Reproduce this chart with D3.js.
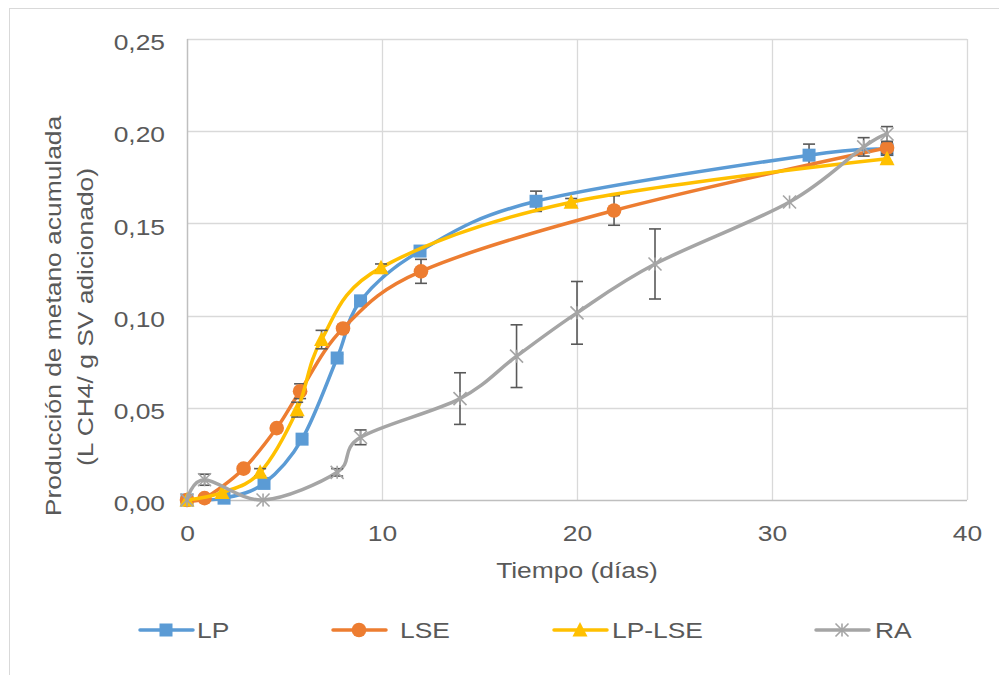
<!DOCTYPE html>
<html>
<head>
<meta charset="utf-8">
<script src="https://cdn.jsdelivr.net/npm/d3@7"></script>
<style>
  html, body { margin: 0; padding: 0; background: #fff; }
  svg { display: block; }
  text { font-family: "Liberation Sans", Arial, sans-serif; fill: #595959; }
</style>
</head>
<body>
<svg id="chart" width="999" height="675"></svg>
<script>
// ---------- DATA ----------
const seriesNames = ["LP", "LSE", "LP-LSE", "RA"];

const lpDays   = [0, 1.9, 3.95, 5.9, 7.7, 8.9, 11.95, 17.9, 31.9, 35.9];
const lpValues = [0, 0.001, 0.009, 0.033, 0.077, 0.108, 0.135, 0.162, 0.187, 0.190];
const lpErr    = [0, 0, 0.001, 0.002, 0.002, 0.002, 0.002, 0.0055, 0.006, 0.003];

const lseDays   = [0, 0.9, 2.9, 4.6, 5.8, 8.0, 12.0, 21.9, 35.9];
const lseValues = [0, 0.001, 0.017, 0.039, 0.059, 0.093, 0.124, 0.157, 0.191];
const lseErr    = [0, 0, 0, 0.001, 0.004, 0.002, 0.0065, 0.008, 0.003];

const lplseDays   = [0, 1.8, 3.75, 5.65, 6.9, 9.95, 19.7, 35.9];
const lplseValues = [0, 0.004, 0.015, 0.049, 0.087, 0.126, 0.1615, 0.185];
const lplseErr    = [0, 0, 0.002, 0.004, 0.005, 0.002, 0.002, 0.002];

const raDays   = [0, 0.9, 3.9, 7.7, 8.9, 14.0, 16.9, 20.0, 24.0, 30.9, 34.7, 35.9];
const raValues = [0, 0.011, 0.0, 0.015, 0.034, 0.055, 0.078, 0.1015, 0.128, 0.1616, 0.1915, 0.1985];
const raErr    = [0, 0.003, 0, 0.002, 0.004, 0.014, 0.017, 0.017, 0.019, 0, 0.005, 0.004];

const xTicks = [0, 10, 20, 30, 40];
const yTicks = [0, 0.05, 0.10, 0.15, 0.20, 0.25];

const xTitle = "Tiempo (días)";
const yTitle1 = "Producción de metano acumulada";
const yTitle2 = "(L CH4/ g SV adicionado)";

// ---------- LAYOUT / STYLE ----------
const colors = ["#5B9BD5", "#ED7D31", "#FFC000", "#A5A5A5"];
const markers = ["square", "circle", "triangle", "star"];
const L = 187, R = 967, T = 39, B = 500;
const FS = 22, SX = 1.2;
const legendLineX = [140, 333, 554, 816];
const legendTextX = [197, 400, 612, 875];
const legendY = 630;

const series = [
  {days: lpDays, vals: lpValues, err: lpErr},
  {days: lseDays, vals: lseValues, err: lseErr},
  {days: lplseDays, vals: lplseValues, err: lplseErr},
  {days: raDays, vals: raValues, err: raErr}
].map((s, i) => ({
  name: seriesNames[i], color: colors[i], marker: markers[i],
  pts: s.days.map((d, j) => ({x: d, y: s.vals[j], e: s.err[j]}))
}));

const svg = d3.select("#chart");
const x = d3.scaleLinear().domain([0, 40]).range([L, R]);
const y = d3.scaleLinear().domain([0, 0.25]).range([B, T]);
const fmt = v => d3.format(".2f")(v).replace(".", ",");

// outer frame
svg.append("rect").attr("x", 9.5).attr("y", 8.5).attr("width", 1000).attr("height", 700)
  .attr("fill", "none").attr("stroke", "#d9d9d9").attr("stroke-width", 1);

// gridlines
const grid = svg.append("g");
grid.selectAll("line.h").data(yTicks.filter(v => v > 0)).join("line")
  .attr("x1", L).attr("x2", R)
  .attr("y1", d => Math.round(y(d)) + 0.5).attr("y2", d => Math.round(y(d)) + 0.5)
  .attr("stroke", "#d9d9d9").attr("stroke-width", 1.3);
grid.selectAll("line.v").data(xTicks.filter(v => v > 0)).join("line")
  .attr("y1", T).attr("y2", B)
  .attr("x1", d => Math.round(x(d)) + 0.5).attr("x2", d => Math.round(x(d)) + 0.5)
  .attr("stroke", "#d9d9d9").attr("stroke-width", 1.3);

// axes lines
svg.append("line").attr("x1", L + 0.5).attr("x2", L + 0.5).attr("y1", T).attr("y2", B)
  .attr("stroke", "#bfbfbf").attr("stroke-width", 1.5);
svg.append("line").attr("x1", L).attr("x2", R).attr("y1", B + 0.5).attr("y2", B + 0.5)
  .attr("stroke", "#bfbfbf").attr("stroke-width", 1.5);

// y axis labels
const yAxis = svg.append("g").attr("transform", `translate(${L},0)`)
  .call(d3.axisLeft(y).tickValues(yTicks).tickFormat(fmt).tickSize(0));
yAxis.select(".domain").remove();
yAxis.selectAll("text")
  .attr("x", 0).attr("dy", "0.35em")
  .attr("transform", `translate(-22,3) scale(${SX},1)`)
  .style("font-size", FS + "px").style("font-family", null).attr("fill", "#595959")
  .attr("text-anchor", "end");

// x axis labels
const xAxis = svg.append("g").attr("transform", `translate(0,${B})`)
  .call(d3.axisBottom(x).tickValues(xTicks).tickFormat(d => d).tickSize(0));
xAxis.select(".domain").remove();
xAxis.selectAll("text")
  .attr("y", 0).attr("dy", 0)
  .attr("transform", `translate(0,41) scale(${SX},1)`)
  .style("font-size", FS + "px").style("font-family", null).attr("fill", "#595959");

// titles
svg.append("text").text(xTitle)
  .attr("transform", `translate(577,578) scale(${SX},1)`)
  .attr("text-anchor", "middle").style("font-size", FS + "px");
svg.append("text").text(yTitle1)
  .attr("transform", `translate(61,316) rotate(-90) scale(${SX},1)`)
  .attr("text-anchor", "middle").style("font-size", FS + "px");
svg.append("text").text(yTitle2)
  .attr("transform", `translate(93,317) rotate(-90) scale(${SX},1)`)
  .attr("text-anchor", "middle").style("font-size", FS + "px");

// marker drawing
function drawMarker(g, type, color, cx, cy) {
  if (type === "square") {
    g.append("rect").attr("x", cx - 6.5).attr("y", cy - 6.5).attr("width", 13).attr("height", 13)
      .attr("fill", color);
  } else if (type === "circle") {
    g.append("circle").attr("cx", cx).attr("cy", cy).attr("r", 7.3).attr("fill", color);
  } else if (type === "triangle") {
    g.append("path").attr("d", `M${cx},${cy - 8} L${cx + 7.5},${cy + 6.5} L${cx - 7.5},${cy + 6.5} Z`)
      .attr("fill", color);
  } else if (type === "star") {
    const r = 6.5;
    g.append("path")
      .attr("d", `M${cx - r},${cy - r} L${cx + r},${cy + r} M${cx - r},${cy + r} L${cx + r},${cy - r} M${cx},${cy - r} L${cx},${cy + r}`)
      .attr("stroke", color).attr("stroke-width", 1.6).attr("fill", "none");
  }
}

const line = d3.line().x(d => x(d.x)).y(d => y(d.y)).curve(d3.curveCardinal.tension(0));

series.forEach(s => {
  const g = svg.append("g");
  g.append("path").datum(s.pts).attr("d", line)
    .attr("fill", "none").attr("stroke", s.color).attr("stroke-width", 3.5)
    .attr("stroke-linecap", "round").attr("stroke-linejoin", "round");
  // error bars
  const eb = g.append("g").attr("stroke", "#595959").attr("stroke-width", 1.6);
  s.pts.filter(p => p.e > 0).forEach(p => {
    const px = x(p.x), y1 = y(p.y + p.e), y2 = y(p.y - p.e);
    eb.append("line").attr("x1", px).attr("x2", px).attr("y1", y1).attr("y2", y2);
    eb.append("line").attr("x1", px - 6).attr("x2", px + 6).attr("y1", y1).attr("y2", y1);
    eb.append("line").attr("x1", px - 6).attr("x2", px + 6).attr("y1", y2).attr("y2", y2);
  });
  const mg = g.append("g");
  s.pts.forEach(p => drawMarker(mg, s.marker, s.color, x(p.x), y(p.y)));
});

// legend
series.forEach((s, i) => {
  const g = svg.append("g");
  const x0 = legendLineX[i];
  g.append("line").attr("x1", x0).attr("x2", x0 + 53).attr("y1", legendY).attr("y2", legendY)
    .attr("stroke", s.color).attr("stroke-width", 3.5).attr("stroke-linecap", "round");
  drawMarker(g, s.marker, s.color, x0 + 26, legendY);
  g.append("text").text(s.name)
    .attr("transform", `translate(${legendTextX[i]},${legendY + 8}) scale(${SX},1)`)
    .style("font-size", FS + "px");
});
</script>
</body>
</html>
